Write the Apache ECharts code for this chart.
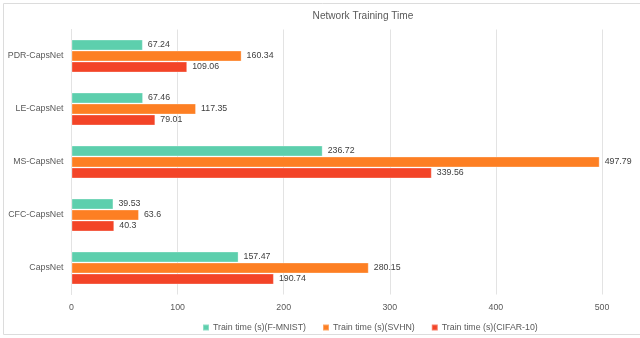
<!DOCTYPE html>
<html><head><meta charset="utf-8">
<script src="https://cdn.jsdelivr.net/npm/echarts@6/dist/echarts.min.js"></script>
<style>html,body{margin:0;padding:0;background:#fff}#c{width:640px;height:338px}</style>
</head><body><div id="c"></div>
<script>
const categories = ['PDR-CapsNet', 'LE-CapsNet', 'MS-CapsNet', 'CFC-CapsNet', 'CapsNet'];
const seriesNames = ['Train time (s)(F-MNIST)', 'Train time (s)(SVHN)', 'Train time (s)(CIFAR-10)'];
const fmnist = [67.24, 67.46, 236.72, 39.53, 157.47];
const svhn = [160.34, 117.35, 497.79, 63.6, 280.15];
const cifar = [109.06, 79.01, 339.56, 40.3, 190.74];
const colors = ['#5dcfad', '#fd7f23', '#f34427'];
const xTicks = [0, 100, 200, 300, 400, 500];

const FONT = '"Liberation Sans", Arial, sans-serif';
const FS = 8.8;
const chart = echarts.init(document.getElementById('c'), null, {renderer: 'canvas'});
const mk = (name, data, color) => ({
  name, type: 'bar', data, barWidth: 11, barGap: '0%',
  itemStyle: {color, borderColor: 'rgba(255,255,255,0.3)', borderWidth: 1},
  label: {show: true, position: 'right', distance: 5, color: '#404040', fontSize: FS, fontFamily: FONT}
});
chart.setOption({
  animation: false,
  textStyle: {fontFamily: FONT},
  graphic: [{type: 'rect', shape: {x: 3.5, y: 3.5, width: 660, height: 331}, style: {fill: 'none', stroke: '#dcdcdc', lineWidth: 1}, silent: true}],
  title: {text: 'Network Training Time', left: 358, top: 6, textAlign: 'center',
    textStyle: {fontSize: 10.1, fontWeight: 'normal', color: '#595959', fontFamily: FONT}},
  legend: {data: seriesNames, left: 197, top: 318, icon: 'rect', itemWidth: 6, itemHeight: 6, itemGap: 16,
    textStyle: {fontSize: FS, color: '#595959', fontFamily: FONT, padding: [0, 0, 0, -1]}},
  grid: {left: 71.5, right: 38, top: 29.5, bottom: 43.5, containLabel: false},
  xAxis: {type: 'value', min: 0, max: 500, interval: 100,
    axisLine: {show: false}, axisTick: {show: false},
    splitLine: {lineStyle: {color: '#e3e3e3'}},
    axisLabel: {color: '#595959', fontSize: FS, margin: 9, fontFamily: FONT,
      formatter: v => xTicks.includes(v) ? String(v) : ''}},
  yAxis: {type: 'category', data: categories, inverse: true,
    axisLine: {show: true, lineStyle: {color: '#e3e3e3'}}, axisTick: {show: false},
    axisLabel: {color: '#595959', fontSize: FS, margin: 8, fontFamily: FONT}},
  series: [mk(seriesNames[0], fmnist, colors[0]), mk(seriesNames[1], svhn, colors[1]), mk(seriesNames[2], cifar, colors[2])]
});
</script></body></html>
